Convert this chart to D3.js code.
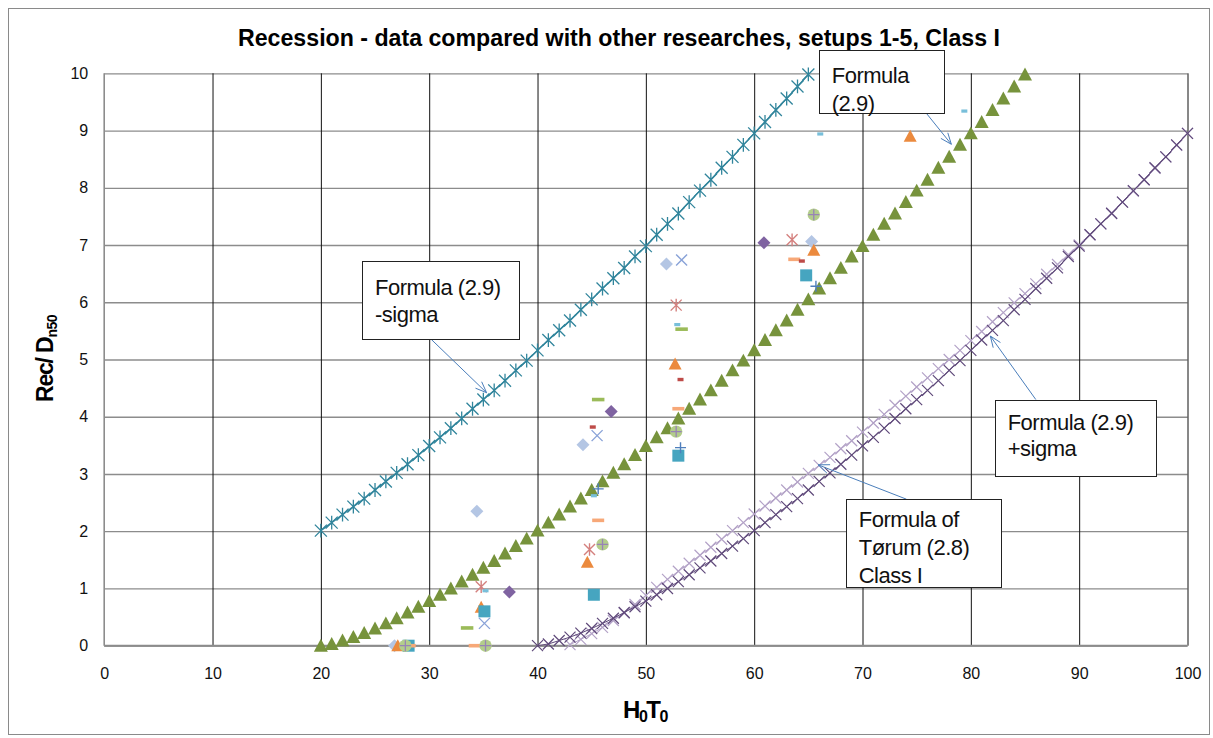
<!DOCTYPE html>
<html><head><meta charset="utf-8">
<script src="https://cdn.jsdelivr.net/npm/d3@7"></script>
<style>
body{margin:0;background:#fff}
svg{display:block}
text{font-family:"Liberation Sans",Arial,sans-serif}
</style>
</head><body>
<svg id="c" width="1213" height="738"></svg>
<script>
// ---------- DATA ----------
const xTicks = [0,10,20,30,40,50,60,70,80,90,100];
const yTicks = [0,1,2,3,4,5,6,7,8,9,10];

// Formula (2.9): H0T0 = 20 ... 85 (step 1)
const formulaStart = 20;
const formulaVals = [0,0.03,0.09,0.15,0.22,0.30,0.39,0.48,0.58,0.68,
  0.78,0.89,1.00,1.12,1.24,1.36,1.48,1.61,1.74,1.87,
  2.01,2.15,2.29,2.43,2.57,2.72,2.87,3.02,3.17,3.33,
  3.49,3.64,3.80,3.97,4.14,4.30,4.46,4.63,4.81,4.98,
  5.16,5.34,5.51,5.68,5.87,6.05,6.24,6.42,6.60,6.80,
  6.98,7.18,7.37,7.55,7.75,7.95,8.14,8.35,8.54,8.75,
  8.95,9.15,9.36,9.56,9.77,9.98];

// Formula (2.9) -sigma: H0T0 = 20 ... 65
const minusStart = 20;
const minusVals = [2.01,2.15,2.29,2.43,2.57,2.72,2.87,3.02,3.17,3.33,
  3.49,3.64,3.80,3.97,4.14,4.30,4.46,4.63,4.81,4.98,
  5.16,5.34,5.51,5.68,5.87,6.05,6.24,6.42,6.60,6.80,
  6.98,7.18,7.37,7.55,7.75,7.95,8.14,8.35,8.54,8.75,
  8.95,9.15,9.36,9.56,9.77,9.98];

// Formula (2.9) +sigma: H0T0 = 40 ... 100
const plusStart = 40;
const plusVals = [0,0.03,0.09,0.15,0.22,0.30,0.39,0.48,0.58,0.68,
  0.78,0.89,1.00,1.12,1.24,1.36,1.48,1.61,1.74,1.87,
  2.01,2.15,2.29,2.43,2.57,2.72,2.87,3.02,3.17,3.33,
  3.49,3.64,3.80,3.97,4.14,4.30,4.46,4.63,4.81,4.98,
  5.16,5.34,5.51,5.68,5.87,6.05,6.24,6.42,6.60,6.80,
  6.98,7.18,7.37,7.55,7.75,7.95,8.14,8.35,8.54,8.75,8.95];

// Formula of Tørum (2.8) Class I: H0T0 = 43 ... 100
const torumStart = 43;
const torumVals = [0.02,0.11,0.21,0.32,0.44,0.57,0.72,
  0.88,1.02,1.16,1.30,1.44,1.58,1.72,1.86,2.01,2.15,
  2.30,2.44,2.58,2.72,2.86,3.01,3.15,3.29,3.44,3.58,
  3.73,3.89,4.04,4.20,4.36,4.52,4.68,4.84,5.00,5.16,
  5.33,5.49,5.66,5.82,5.99,6.15,6.32,6.49,6.66,6.83,
  7.00,7.18,7.37,7.56,7.75,7.94,8.14,8.34,8.54,8.74,8.95];

// Measured data (H0T0, Rec/Dn50)
const lightDiamond = [[26.8,0],[34.4,2.35],[44.2,3.51],[51.9,6.67],[65.3,7.06]];
const purpleDiamond = [[37.4,0.94],[46.8,4.09],[60.9,7.04]];
const tealSquare = [[28.1,0],[35.1,0.6],[45.2,0.89],[53.0,3.32],[64.8,6.47]];
const orangeTri = [[27.1,0],[34.8,0.67],[44.6,1.46],[52.7,4.92],[65.5,6.91],[74.4,8.9]];
const blueX = [[35.1,0.39],[45.5,3.67],[53.3,6.74]];
const pinkStar = [[34.8,1.03],[44.8,1.68],[52.8,5.95],[63.5,7.09]];
const tealDash = [[35.2,0.96],[45.2,2.62],[52.9,5.61],[66.1,8.94],[79.4,9.34]];
const greenDash = [[33.5,0.31],[45.6,4.3],[53.3,5.53]];
const redDash = [[45.1,3.82],[53.2,4.65],[64.4,6.72]];
const salmonDash = [[28.2,0],[34.2,0],[45.6,2.19],[53.0,4.14],[63.7,6.75]];
const greenCircle = [[27.8,0],[35.2,0],[46.0,1.77],[52.8,3.74],[65.5,7.53]];
const bluePlus = [[45.6,2.74],[53.2,3.46],[65.7,6.28]];

// Annotations (data coordinates)
const notes = [
  {lines:["Formula","(2.9)"], box:[65.96,10.40,77.5,9.30], arrow:[75.9,9.30,78.2,8.76], off:33, lh:28},
  {lines:["Formula (2.9)","-sigma"], box:[23.8,6.72,38.3,5.35], arrow:[30.2,5.35,35.3,4.42], off:34, lh:27},
  {lines:["Formula (2.9)","+sigma"], box:[82.2,4.30,97.1,2.98], arrow:[86.0,4.30,81.8,5.41], off:30, lh:26},
  {lines:["Formula of","Tørum (2.8)","Class I"], box:[68.45,2.56,82.75,1.02], arrow:[74.05,2.56,65.9,3.16], off:28, lh:28}
];

// ---------- CHART ----------
const svg = d3.select('#c');
const x = d3.scaleLinear().domain([0,100]).range([104.2,1187.5]);
const y = d3.scaleLinear().domain([0,10]).range([645.7,73.3]);
const pw = x(100)-x(0), ph = y(0)-y(10);

svg.append('rect').attr('x',8.5).attr('y',8.5).attr('width',1201).attr('height',726)
  .attr('fill','#fff').attr('stroke','#8a8a8a').attr('stroke-width',1);

// horizontal gridlines (gray)
const gh = svg.append('g').attr('transform',`translate(${x(0)},0)`)
  .call(d3.axisLeft(y).tickValues(yTicks).tickSize(-pw).tickFormat(''));
gh.select('.domain').remove();
gh.selectAll('line').attr('stroke','#8c8c8c').attr('stroke-width',1.3);

// vertical gridlines (black)
const gv = svg.append('g').attr('transform',`translate(0,${y(0)})`)
  .call(d3.axisBottom(x).tickValues(xTicks.slice(1)).tickSize(-ph).tickFormat(''));
gv.select('.domain').remove();
gv.selectAll('line').attr('stroke','#111').attr('stroke-width',1);

// axis lines
svg.append('line').attr('x1',x(0)).attr('x2',x(0)).attr('y1',y(10)).attr('y2',y(0))
  .attr('stroke','#8c8c8c').attr('stroke-width',1.6);
svg.append('line').attr('x1',x(0)).attr('x2',x(100)).attr('y1',y(0)).attr('y2',y(0))
  .attr('stroke','#8c8c8c').attr('stroke-width',2);

// tick labels
const ax = svg.append('g').attr('transform',`translate(0,${y(0)})`)
  .call(d3.axisBottom(x).tickValues(xTicks).tickSize(0).tickPadding(22));
ax.select('.domain').remove();
ax.selectAll('text').attr('font-size',16).attr('fill','#111').style('font-family','"Liberation Sans",Arial,sans-serif');
const ay = svg.append('g').attr('transform',`translate(${x(0)},0)`)
  .call(d3.axisLeft(y).tickValues(yTicks).tickSize(0).tickPadding(16));
ay.select('.domain').remove();
ay.selectAll('text').attr('font-size',16).attr('fill','#111').style('font-family','"Liberation Sans",Arial,sans-serif');

// title
svg.append('text').attr('x',238).attr('y',46).attr('font-size',23).attr('font-weight','bold')
  .attr('textLength',762).attr('lengthAdjust','spacingAndGlyphs')
  .text('Recession - data compared with other researches, setups 1-5, Class I');

// axis titles
const xt = svg.append('text').attr('x',645).attr('y',718).attr('text-anchor','middle')
  .attr('font-size',24).attr('font-weight','bold').attr('letter-spacing',-1.5);
xt.append('tspan').text('H');
xt.append('tspan').attr('font-size',16).attr('dy',4).text('0');
xt.append('tspan').attr('dy',-4).text('T');
xt.append('tspan').attr('font-size',16).attr('dy',4).text('0');

const yt = svg.append('text').attr('transform','translate(53,402) rotate(-90)')
  .attr('font-size',23).attr('font-weight','bold').attr('letter-spacing',-1.2);
yt.append('tspan').text('Rec/ D');
yt.append('tspan').attr('font-size',14).attr('dy',4).attr('letter-spacing',-0.5).text('n50');

// ---------- MARKERS ----------
function mpath(type, s){
  const h = s/2;
  switch(type){
    case 'diamond': return `M0,${-h}L${h},0L0,${h}L${-h},0Z`;
    case 'square': return `M${-h},${-h}h${s}v${s}h${-s}Z`;
    case 'triangle': return `M0,${-h}L${h},${h*0.85}L${-h},${h*0.85}Z`;
    case 'x': return `M${-h},${-h}L${h},${h}M${-h},${h}L${h},${-h}`;
    case 'star': return `M${-h},${-h}L${h},${h}M${-h},${h}L${h},${-h}M0,${-h*1.15}L0,${h*1.15}`;
    case 'plus': return `M${-h},0L${h},0M0,${-h}L0,${h}`;
  }
}
function series(data, type, size, color, opts={}){
  const g = svg.append('g');
  const filled = ['diamond','square','triangle'].includes(type);
  g.selectAll('path').data(data).join('path')
    .attr('transform', d=>`translate(${x(d[0])},${y(d[1])})`)
    .attr('d', mpath(type,size))
    .attr('fill', filled ? color : 'none')
    .attr('stroke', filled ? 'none' : color)
    .attr('stroke-width', opts.sw || 1.3);
  return g;
}
function dash(data, w, h, color){
  svg.append('g').selectAll('rect').data(data).join('rect')
    .attr('x', d=>x(d[0])-w/2).attr('y', d=>y(d[1])-h/2)
    .attr('width', w).attr('height', h).attr('fill', color);
}
function curve(start, vals, color, sw){
  const pts = vals.map((v,i)=>[start+i, v]);
  svg.append('path').datum(pts)
    .attr('d', d3.line().x(d=>x(d[0])).y(d=>y(d[1])))
    .attr('fill','none').attr('stroke',color).attr('stroke-width',sw);
  return pts;
}

// formula curves
const torumPts = curve(torumStart, torumVals, '#B3A2C7', 1);
series(torumPts, 'x', 11, '#B3A2C7', {sw:1.2});
const plusPts = curve(plusStart, plusVals, '#5F497A', 1);
series(plusPts, 'x', 11, '#5F497A', {sw:1.2});
const minusPts = curve(minusStart, minusVals, '#31859C', 1.4);
series(minusPts, 'star', 12, '#31859C', {sw:1.3});
const formPts = formulaVals.map((v,i)=>[formulaStart+i, v]);
series(formPts, 'triangle', 14, '#77933C');

// measured data
series(lightDiamond, 'diamond', 13, '#B4C6E4');
series(purpleDiamond, 'diamond', 13, '#7F63A1');
series(orangeTri, 'triangle', 13, '#EB8A3E');
series(tealSquare, 'square', 12, '#46A5C0');
series(blueX, 'x', 11, '#8AA3D8', {sw:1.4});
series(pinkStar, 'star', 11, '#D4807E', {sw:1.4});
dash(greenDash, 12.5, 3.6, '#9BBB59');
dash(salmonDash, 12, 3.6, '#F7A878');
dash(tealDash, 6, 3.2, '#78BFDA');
dash(redDash, 6, 3.4, '#BE4B48');
const gc = svg.append('g');
gc.selectAll('circle').data(greenCircle).join('circle')
  .attr('cx', d=>x(d[0])).attr('cy', d=>y(d[1])).attr('r', 6.2).attr('fill', '#B3CD8B');
gc.selectAll('path').data(greenCircle).join('path')
  .attr('transform', d=>`translate(${x(d[0])},${y(d[1])})`)
  .attr('d', mpath('plus', 11)).attr('stroke', '#9884B6').attr('stroke-width', 1.3).attr('fill','none');
series(bluePlus, 'plus', 11, '#4F7FBC', {sw:1.4});

// ---------- ANNOTATIONS ----------
const ag = svg.append('g');
function arrow(x1,y1,x2,y2){
  ag.append('line').attr('x1',x1).attr('y1',y1).attr('x2',x2).attr('y2',y2)
    .attr('stroke','#4A7EBB').attr('stroke-width',1);
  const ang = Math.atan2(y2-y1, x2-x1), L = 12, a = 0.38;
  const p1 = [x2 - L*Math.cos(ang-a), y2 - L*Math.sin(ang-a)];
  const p2 = [x2 - L*Math.cos(ang+a), y2 - L*Math.sin(ang+a)];
  ag.append('path').attr('d', `M${p1}L${x2},${y2}L${p2}`)
    .attr('fill','none').attr('stroke','#4A7EBB').attr('stroke-width',1);
}
notes.forEach(n=>{
  const bx = x(n.box[0]), by = y(n.box[1]), bw = x(n.box[2])-bx, bh = y(n.box[3])-by;
  arrow(x(n.arrow[0]), y(n.arrow[1]), x(n.arrow[2]), y(n.arrow[3]));
  ag.append('rect').attr('x',Math.round(bx)+0.5).attr('y',Math.round(by)+0.5)
    .attr('width',Math.round(bw)).attr('height',Math.round(bh))
    .attr('fill','#fff').attr('stroke','#222').attr('stroke-width',1);
  n.lines.forEach((t,i)=>{
    ag.append('text').attr('x', bx+13).attr('y', by + n.off + i*n.lh)
      .attr('font-size',22).attr('letter-spacing',-0.5).attr('fill','#111').text(t);
  });
});
</script>
</body></html>
